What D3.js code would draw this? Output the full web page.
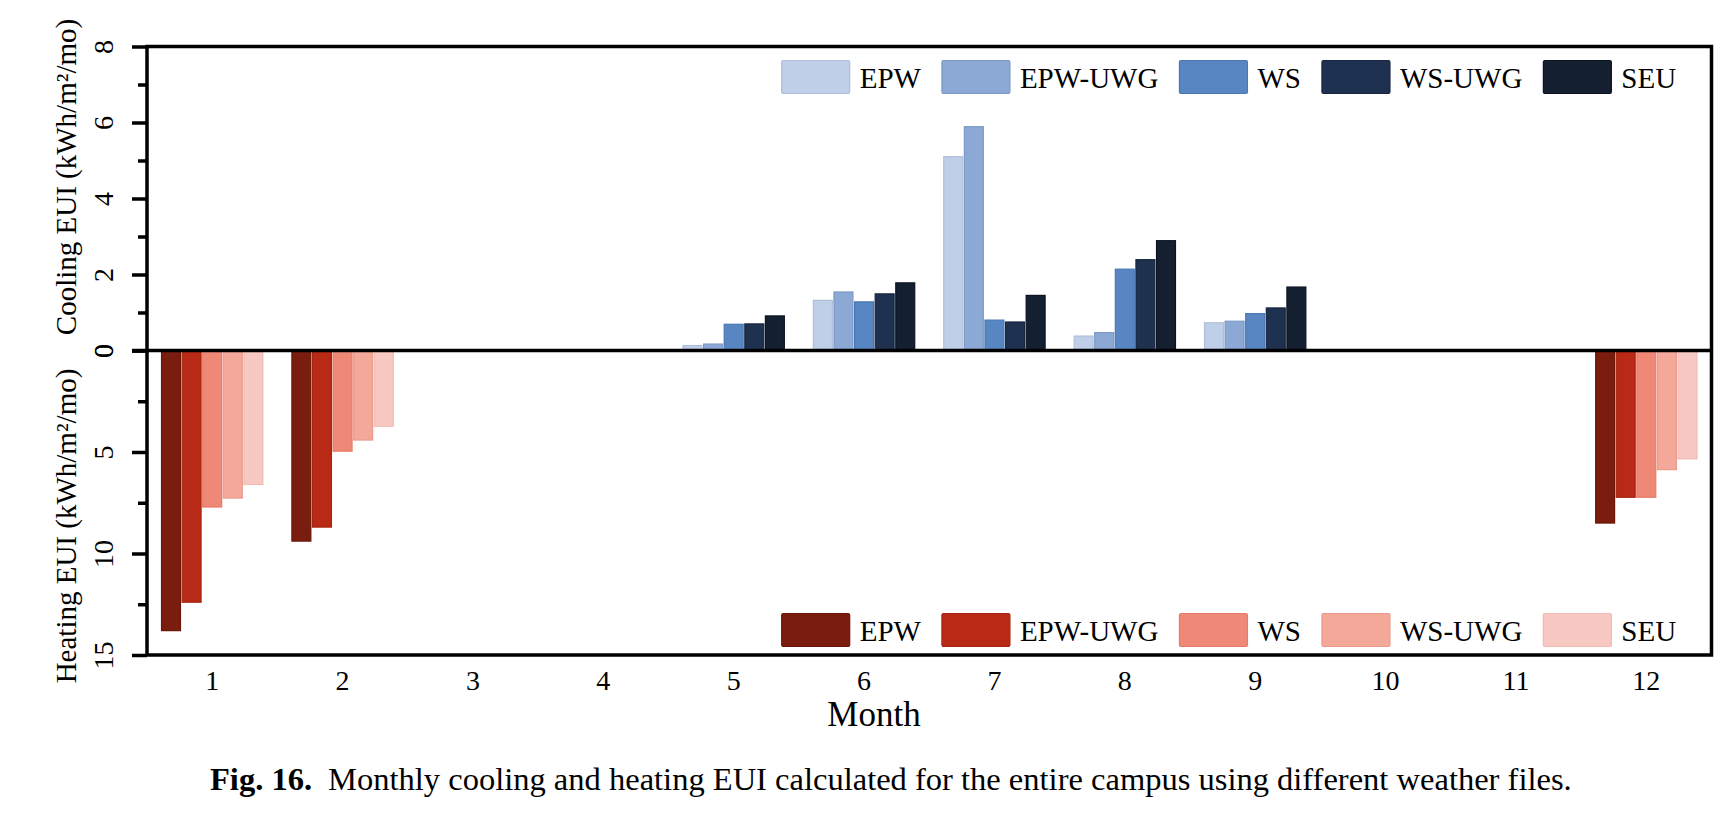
<!DOCTYPE html>
<html><head><meta charset="utf-8">
<script src="https://cdn.jsdelivr.net/npm/d3@7"></script>
<style>
html,body{margin:0;padding:0;background:#fff;}
svg{display:block;}
</style></head>
<body>
<svg id="c" width="1736" height="818"></svg>
<script>
const months = [1,2,3,4,5,6,7,8,9,10,11,12];
const seriesNames = ["EPW","EPW-UWG","WS","WS-UWG","SEU"];
// Cooling EUI (kWh/m2/mo)
const coolEPW    = [0,0,0,0,0.13,1.32,5.10,0.38,0.73,0,0,0];
const coolEPWUWG = [0,0,0,0,0.17,1.54,5.89,0.47,0.77,0,0,0];
const coolWS     = [0,0,0,0,0.69,1.28,0.80,2.14,0.97,0,0,0];
const coolWSUWG  = [0,0,0,0,0.70,1.49,0.75,2.39,1.12,0,0,0];
const coolSEU    = [0,0,0,0,0.91,1.78,1.45,2.89,1.67,0,0,0];
// Heating EUI (kWh/m2/mo)
const heatEPW    = [13.8,9.39,0,0,0,0,0,0,0,0,0,8.5];
const heatEPWUWG = [12.4,8.7,0,0,0,0,0,0,0,0,0,7.23];
const heatWS     = [7.71,4.96,0,0,0,0,0,0,0,0,0,7.23];
const heatWSUWG  = [7.27,4.41,0,0,0,0,0,0,0,0,0,5.87];
const heatSEU    = [6.6,3.73,0,0,0,0,0,0,0,0,0,5.34];
const coolTicks = [0,2,4,6,8];
const coolMinor = [1,3,5,7];
const heatTicks = [0,5,10,15];
const heatMinor = [2.5,7.5,12.5];

const coolColors = ["#bfcfe8","#8ba9d4","#5886c2","#1f3150","#141f30"];
const coolStroke = ["#aebfd9","#7b99c6","#4a77b3","#17253e","#0c1422"];
const heatColors = ["#7a1c0e","#b82a15","#f08878","#f4a89a","#f8c9c2"];
const heatStroke = ["#6a160a","#a82410","#e87a69","#eb9a8b","#f1bbb3"];

const cool = [coolEPW,coolEPWUWG,coolWS,coolWSUWG,coolSEU];
const heat = [heatEPW,heatEPWUWG,heatWS,heatWSUWG,heatSEU];

const L = 147, R = 1711.5, T = 46.5, B = 655, Z = 350.5;
const svg = d3.select("#c");
const serif = "'Liberation Serif','Times New Roman',serif";

const x = d3.scaleBand().domain(months).range([L, R]).paddingInner(0).paddingOuter(0);
const xi = d3.scaleBand().domain(seriesNames).range([13.7, x.bandwidth()-13.7]).paddingInner(0.08).paddingOuter(0.04);
const yc = d3.scaleLinear().domain([0,8]).range([Z, T]);
const yh = d3.scaleLinear().domain([0,15]).range([Z, B]);

// bars
seriesNames.forEach((s,i)=>{
  svg.append("g").selectAll("rect").data(months.map((m,j)=>({m,v:cool[i][j]})).filter(d=>d.v>0))
    .join("rect")
    .attr("x", d=>x(d.m)+xi(s)).attr("width", xi.bandwidth())
    .attr("y", d=>yc(d.v)).attr("height", d=>Z-yc(d.v))
    .attr("fill", coolColors[i]).attr("stroke", coolStroke[i]).attr("stroke-width",1.2);
  svg.append("g").selectAll("rect").data(months.map((m,j)=>({m,v:heat[i][j]})).filter(d=>d.v>0))
    .join("rect")
    .attr("x", d=>x(d.m)+xi(s)).attr("width", xi.bandwidth())
    .attr("y", Z).attr("height", d=>yh(d.v)-Z)
    .attr("fill", heatColors[i]).attr("stroke", heatStroke[i]).attr("stroke-width",1.2);
});

// frame
const lw = 3.5;
svg.append("rect").attr("x",L).attr("y",T).attr("width",R-L).attr("height",B-T)
  .attr("fill","none").attr("stroke","#000").attr("stroke-width",lw);
svg.append("line").attr("x1",L-15).attr("x2",R).attr("y1",Z).attr("y2",Z)
  .attr("stroke","#000").attr("stroke-width",lw);

function styleAxis(g){
  g.select(".domain").remove();
  g.selectAll(".tick line").attr("stroke","#000").attr("stroke-width",3.5);
}
// cooling axis
const gc = svg.append("g").attr("transform",`translate(${L},0)`)
  .call(d3.axisLeft(yc).tickValues(coolTicks).tickSize(15).tickPadding(0).tickFormat(d3.format("d")));
styleAxis(gc);
gc.selectAll(".tick text").attr("x",null).attr("dy",null)
  .attr("transform","translate(-34,0) rotate(-90)").attr("text-anchor","middle")
  .attr("font-family",serif).attr("font-size",28).attr("fill","#000");
const gcm = svg.append("g").attr("transform",`translate(${L},0)`)
  .call(d3.axisLeft(yc).tickValues(coolMinor).tickSize(9).tickFormat(""));
styleAxis(gcm);
// heating axis
const gh = svg.append("g").attr("transform",`translate(${L},0)`)
  .call(d3.axisLeft(yh).tickValues(heatTicks).tickSize(15).tickPadding(0).tickFormat(d3.format("d")));
styleAxis(gh);
gh.selectAll(".tick text").attr("x",null).attr("dy",null)
  .attr("transform","translate(-34,0) rotate(-90)").attr("text-anchor","middle")
  .attr("font-family",serif).attr("font-size",28).attr("fill","#000");
const ghm = svg.append("g").attr("transform",`translate(${L},0)`)
  .call(d3.axisLeft(yh).tickValues(heatMinor).tickSize(9).tickFormat(""));
styleAxis(ghm);

// x axis labels
const gx = svg.append("g").attr("transform",`translate(0,${B})`)
  .call(d3.axisBottom(x).tickSize(0).tickPadding(0));
gx.select(".domain").remove();
gx.selectAll(".tick text").attr("y",35).attr("dy",null)
  .attr("font-family",serif).attr("font-size",28).attr("fill","#000");

svg.append("text").attr("x",874).attr("y",726).attr("text-anchor","middle")
  .attr("font-family",serif).attr("font-size",35).text("Month");

// y titles
svg.append("text").attr("transform","translate(76,177) rotate(-90)").attr("text-anchor","middle")
  .attr("font-family",serif).attr("font-size",29).text("Cooling EUI (kWh/m²/mo)");
svg.append("text").attr("transform","translate(76,526) rotate(-90)").attr("text-anchor","middle")
  .attr("font-family",serif).attr("font-size",29).text("Heating EUI (kWh/m²/mo)");

// legends
function legend(y0, colors, strokes){
  const g = svg.append("g");
  let cx = 781.7;
  seriesNames.forEach((s,i)=>{
    g.append("rect").attr("x",cx).attr("y",y0).attr("width",68).attr("height",33).attr("rx",1.5)
      .attr("fill",colors[i]).attr("stroke",strokes[i]).attr("stroke-width",1.2);
    const t = g.append("text").attr("x",cx+78).attr("y",y0+27).attr("font-family",serif)
      .attr("font-size",29).text(s);
    cx += 78 + t.node().getComputedTextLength() + 21;
  });
}
legend(60.5, coolColors, coolStroke);
legend(613.5, heatColors, heatStroke);

// caption
const cap = svg.append("text").attr("x",210).attr("y",790)
  .attr("font-family",serif).attr("font-size",29);
cap.append("tspan").attr("font-weight","bold").text("Fig. 16.");
cap.append("tspan").attr("dx",16).text("Monthly cooling and heating EUI calculated for the entire campus using different weather files.");
const w = cap.node().getComputedTextLength();
cap.attr("font-size", 29*1346/w);
</script>
</body></html>
